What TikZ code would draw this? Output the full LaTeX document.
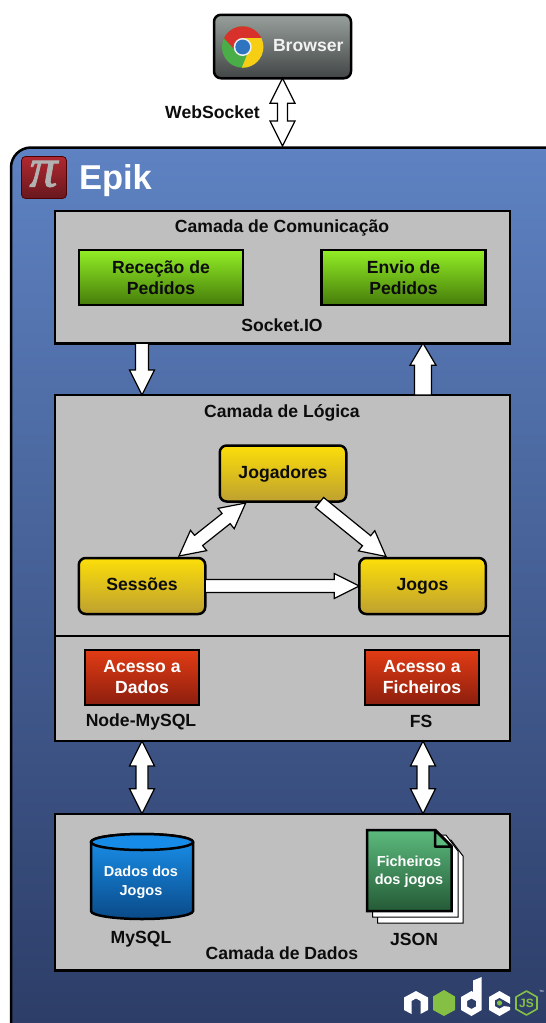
\documentclass[tikz,border=0pt]{standalone}
\usepackage{fontspec}
\setmainfont{Liberation Sans}
\newfontfamily\pifont[ItalicFeatures={FakeBold=1.5}]{Liberation Serif}
\usetikzlibrary{calc,shapes.geometric}
\definecolor{txt}{HTML}{0C0C0C}
\definecolor{panelT}{HTML}{5E82C2}
\definecolor{panelB}{HTML}{293861}
\definecolor{layer}{HTML}{BFBFBF}
\definecolor{nodegreen}{HTML}{85C045}
\definecolor{logobg}{HTML}{2C3C68}
\definecolor{chromeR}{HTML}{D8302A}
\definecolor{chromeY}{HTML}{F6CE14}
\definecolor{chromeG}{HTML}{4AAE48}
\definecolor{chromeB}{HTML}{2F74C0}
\tikzset{
  boxfont/.style={font=\fontsize{17.6}{21}\selectfont\bfseries},
  lbl/.style={inner sep=0pt,outer sep=0pt,text=txt,align=center,boxfont},
  whitelbl/.style={lbl,text=white},
  basebox/.style={draw=black,line width=2.5pt,inner sep=0pt,outer sep=0pt,align=center},
  layerbox/.style={basebox,fill=layer},
  greenbox/.style={basebox,top color={rgb,255:red,146;green,238;blue,38},bottom color={rgb,255:red,70;green,124;blue,10},minimum width=164pt,minimum height=55pt,text=txt,boxfont},
  redbox/.style={basebox,top color={rgb,255:red,226;green,60;blue,20},bottom color={rgb,255:red,140;green,30;blue,14},minimum width=114pt,minimum height=55pt,text=white,boxfont},
  yellowbox/.style={basebox,rounded corners=7pt,top color={rgb,255:red,252;green,222;blue,10},bottom color={rgb,255:red,190;green,160;blue,48},minimum width=126.5pt,minimum height=56pt,text=txt,boxfont,text height=12.5pt,text depth=3.5pt},
  blockarrow/.style={draw=black,fill=white,line width=1.2pt,line join=miter},
}
% one-headed block arrow: from, to, half shaft, half head, head length
\newcommand\onearrow[5]{%
  \coordinate (A) at #1; \coordinate (B) at #2;
  \coordinate (P) at ($(B)!#5pt!(A)$);
  \draw[blockarrow] ($(A)!#3pt!90:(B)$) -- ($(P)!#3pt!90:(B)$) -- ($(P)!#4pt!90:(B)$) -- (B)
    -- ($(P)!#4pt!-90:(B)$) -- ($(P)!#3pt!-90:(B)$) -- ($(A)!#3pt!-90:(B)$) -- cycle;
}
\newcommand\twoarrow[5]{%
  \coordinate (A) at #1; \coordinate (B) at #2;
  \coordinate (P) at ($(B)!#5pt!(A)$); \coordinate (Q) at ($(A)!#5pt!(B)$);
  \draw[blockarrow] (A) -- ($(Q)!#4pt!90:(B)$) -- ($(Q)!#3pt!90:(B)$) -- ($(P)!#3pt!90:(B)$) -- ($(P)!#4pt!90:(B)$) -- (B)
    -- ($(P)!#4pt!-90:(B)$) -- ($(P)!#3pt!-90:(B)$) -- ($(Q)!#3pt!-90:(B)$) -- ($(Q)!#4pt!-90:(B)$) -- cycle;
}
\begin{document}
\begin{tikzpicture}[x=1pt,y=-1pt]
\clip (0,0) rectangle (546,1023);
\fill[white] (0,0) rectangle (546,1023);

% outer panel
\node[basebox,rounded corners=20pt,top color=panelT,bottom color=panelB,minimum width=600pt,minimum height=940pt,anchor=north west] (epik) at (11,147.5) {};
% icon
\node[draw=black!70!red,line width=0.8pt,rounded corners=4pt,top color={rgb,255:red,176;green,40;blue,48},bottom color={rgb,255:red,104;green,24;blue,30},minimum width=45pt,minimum height=42pt,inner sep=0pt] (icon) at (44,177.5) {};
\node[text=black!30,inner sep=0pt,font=\pifont\itshape\fontsize{56}{56}\selectfont] (pi) at (43.5,174) {π};
\node[whitelbl,font=\fontsize{34.5}{34.5}\selectfont\bfseries,anchor=west] (title) at (79,180.5) {Epik};

% browser
\node[basebox,rounded corners=7pt,top color={rgb,255:red,152;green,160;blue,156},bottom color={rgb,255:red,66;green,70;blue,70},minimum width=137pt,minimum height=63.5pt] (browser) at (282.5,46.5) {};
\begin{scope}
  \clip (242.7,47) circle (20.7);
  \fill[chromeG] (242.7,47) circle (20.7);
  \fill[chromeR] (222,36) -- (235,50) -- (243,38) -- (265,38) -- (265,20) -- (218,20) -- cycle;
  \fill[chromeY] (243,38) -- (265,38) -- (265,70) -- (241.7,68) -- (247,55) -- cycle;
\end{scope}
\fill[white!90!gray] (242.7,47) circle (9);
\fill[chromeB] (242.7,47) circle (7.4);
\node[whitelbl,text=white!90!gray,anchor=west] (browserlbl) at (273,46) {Browser};
\node[lbl] (ws) at (212.5,112.5) {WebSocket};
\twoarrow{(browser.south)}{(282.5,146)}{5}{12.5}{25}

% communication layer
\node[layerbox,minimum width=455pt,minimum height=132.5pt] (comm) at (282.5,277) {};
\node[lbl] (commlbl) at (282,227.5) {Camada de Comunicação};
\node[greenbox] (recv) at (161,277.5) {Receção de\\Pedidos};
\node[greenbox] (send) at (403.5,277.5) {Envio de\\Pedidos};
\node[lbl] (sio) at (282,325.5) {Socket.IO};

% logic layer
\node[layerbox,minimum width=455pt,minimum height=241pt] (logic) at (282.5,515.5) {};
\node[lbl] (logiclbl) at (282,412.5) {Camada de Lógica};
\node[yellowbox] (jogadores) at (283,473.5) {Jogadores};
\node[yellowbox] (sessoes) at (142,586) {Sessões};
\node[yellowbox] (jogos) at (422.5,586) {Jogos};

% access layer
\node[layerbox,minimum width=455pt,minimum height=105pt] (access) at (282.5,688.5) {};
\node[redbox] (acd) at (142,677.5) {Acesso a\\Dados};
\node[redbox] (acf) at (422,677.5) {Acesso a\\Ficheiros};
\node[lbl] (nm) at (141,721.5) {Node-MySQL};
\node[lbl] (fs) at (421,721.5) {FS};

% data layer
\node[layerbox,minimum width=455pt,minimum height=156.5pt] (data) at (282.5,892) {};
\node[lbl] (datalbl) at (282,953.5) {Camada de Dados};

% cylinder
\path[draw=black,line width=2.5pt,top color={rgb,255:red,26;green,146;blue,238},bottom color={rgb,255:red,10;green,74;blue,136}]
  (91,842) -- (91,911) arc[start angle=180,end angle=0,x radius=51,y radius=8] -- (193,842) arc[start angle=0,end angle=-180,x radius=51,y radius=8] -- cycle;
\path[draw=black,line width=2.5pt,fill={rgb,255:red,22;green,140;blue,232}] (142,842) ellipse[x radius=51,y radius=8];
\node[whitelbl,font=\fontsize{14.5}{19}\selectfont\bfseries] (cyl) at (141,882) {Dados dos\\Jogos};
\node[lbl] (mysql) at (141,939.5) {MySQL};

% file stack
\draw[black,line width=1pt,fill=white] (377.5,840) -- (451,840) -- (463,856) -- (463,923) -- (377.5,923) -- cycle;
\draw[black,line width=1pt,fill=white] (372.5,835) -- (446,835) -- (458,851) -- (458,917) -- (372.5,917) -- cycle;
\path[draw=black,line width=2.5pt,top color={rgb,255:red,92;green,186;blue,125},bottom color={rgb,255:red,36;green,90;blue,54}]
  (367,830) -- (435,830) -- (451.5,846.5) -- (451.5,911) -- (367,911) -- cycle;
\path[draw=black,line width=2.5pt,fill={rgb,255:red,92;green,186;blue,125},line join=round] (435,830) -- (451.5,846.5) -- (435,846.5) -- cycle;
\node[whitelbl,font=\fontsize{14.5}{17.5}\selectfont\bfseries] (filelbl) at (409,872) {Ficheiros\\dos jogos};
\node[lbl] (json) at (414,939.5) {JSON};

% inter-layer arrows
\onearrow{([xshift=-140.5pt]comm.south)}{([xshift=-140.5pt]logic.north)}{6.5}{12.5}{25}
\onearrow{([xshift=140.5pt]logic.north)}{([xshift=140.5pt]comm.south)}{8.5}{13}{22}
\twoarrow{([xshift=-140.5pt]access.south)}{([xshift=-140.5pt]data.north)}{6}{12.5}{25}
\twoarrow{([xshift=140.5pt]access.south)}{([xshift=140.5pt]data.north)}{6}{12.5}{25}

% triangle arrows
\onearrow{(sessoes.east)}{(jogos.west)}{6.5}{12.5}{25}
\onearrow{(319.5,502.5)}{(386,556.5)}{6.5}{13}{25}
\twoarrow{(245.7,503)}{(179,556)}{6.5}{13}{25}

% node.js logo
\fill[white] (404,997.5) -- (416,991) -- (428,997.5) -- (428,1010) -- (420.5,1014) -- (420.5,1001) -- (416,998.5) -- (411.5,1001) -- (411.5,1014) -- (404,1010) -- cycle;
\fill[nodegreen] (444,990) -- (455,996.5) -- (455,1010) -- (444,1016) -- (433,1010) -- (433,996.5) -- cycle;
\fill[white,even odd rule] (473,980.5) -- (481.7,977) -- (481.7,1010) -- (471.5,1016) -- (461,1010) -- (461,997) -- (471.5,991) -- (473,992) -- cycle
  (471.5,998.5) -- (467,1001) -- (467,1006.5) -- (471.5,1009) -- (476,1006.5) -- (476,1001) -- cycle;
\fill[white] (499.5,991) -- (510,997) -- (510,1010) -- (499.5,1016) -- (489,1010) -- (489,997) -- cycle;
\fill[logobg] (499.5,998) -- (504,1000.5) -- (511,1004.5) -- (511,1007) -- (504,1006) -- (499.5,1008.5) -- (495,1006) -- (495,1000.5) -- cycle;
\fill[nodegreen] (499.5,1003) circle (2.6);
\draw[nodegreen,line width=1.6pt,line join=round] (526.5,991) -- (537,997) -- (537,1009) -- (526.5,1015) -- (516,1009) -- (516,997) -- cycle;
\node[text=nodegreen,inner sep=0pt,font=\fontsize{12}{12}\selectfont\bfseries] (js) at (526.5,1003) {JS};
\node[text=white,inner sep=0pt,font=\fontsize{3}{3}\selectfont] (tm) at (541.5,991) {TM};
\end{tikzpicture}
\end{document}
